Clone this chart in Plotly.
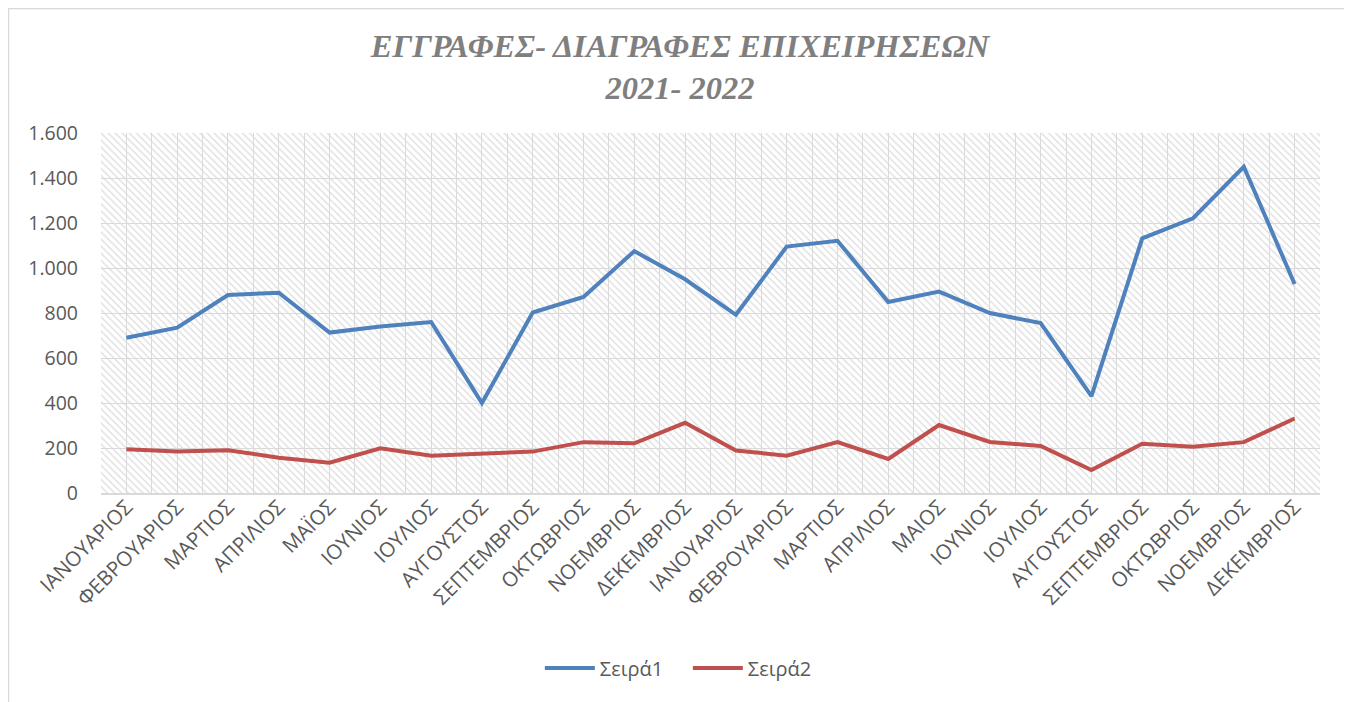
import plotly.graph_objects as go

months = ["ΙΑΝΟΥΑΡΙΟΣ", "ΦΕΒΡΟΥΑΡΙΟΣ", "ΜΑΡΤΙΟΣ", "ΑΠΡΙΛΙΟΣ", "ΜΑΪΟΣ", "ΙΟΥΝΙΟΣ",
          "ΙΟΥΛΙΟΣ", "ΑΥΓΟΥΣΤΟΣ", "ΣΕΠΤΕΜΒΡΙΟΣ", "ΟΚΤΩΒΡΙΟΣ", "ΝΟΕΜΒΡΙΟΣ", "ΔΕΚΕΜΒΡΙΟΣ",
          "ΙΑΝΟΥΑΡΙΟΣ", "ΦΕΒΡΟΥΑΡΙΟΣ", "ΜΑΡΤΙΟΣ", "ΑΠΡΙΛΙΟΣ", "ΜΑΙΟΣ", "ΙΟΥΝΙΟΣ",
          "ΙΟΥΛΙΟΣ", "ΑΥΓΟΥΣΤΟΣ", "ΣΕΠΤΕΜΒΡΙΟΣ", "ΟΚΤΩΒΡΙΟΣ", "ΝΟΕΜΒΡΙΟΣ", "ΔΕΚΕΜΒΡΙΟΣ"]

seira1 = [690, 735, 880, 890, 713, 740, 760, 400, 802, 871, 1075, 950,
          792, 1095, 1121, 849, 895, 800, 755, 431, 1132, 1221, 1450, 929]
seira2 = [195, 185, 190, 157, 135, 199, 166, 176, 184, 226, 221, 312,
          189, 166, 226, 151, 302, 227, 209, 102, 219, 206, 226, 331]

y_ticks = [0, 200, 400, 600, 800, 1000, 1200, 1400, 1600]
y_tick_labels = ["0", "200", "400", "600", "800", "1.000", "1.200", "1.400", "1.600"]
Y_MAX = 1600

idx = list(range(len(months)))
GRID = "#d9d9d9"
TXT = "#595959"
FONT = "Open Sans"

fig = go.Figure()

# hatched plot-area background (pattern fill)
fig.add_trace(go.Bar(
    x=idx, y=[Y_MAX] * len(idx), width=1,
    marker=dict(color="rgba(0,0,0,0)", line=dict(width=0),
                pattern=dict(shape="\\", size=5, solidity=0.25,
                             fgcolor="#dcdcdc", bgcolor="rgba(0,0,0,0)",
                             fillmode="replace")),
    showlegend=False, hoverinfo="skip"))

fig.add_trace(go.Scatter(x=idx, y=seira1, mode="lines", name="Σειρά1",
                         line=dict(color="#4f81bd", width=4)))
fig.add_trace(go.Scatter(x=idx, y=seira2, mode="lines", name="Σειρά2",
                         line=dict(color="#c0504d", width=4)))

fig.update_layout(
    width=1344, height=694,
    margin=dict(l=93, r=32, t=125, b=209),
    paper_bgcolor="white", plot_bgcolor="white",
    bargap=0,
    title=dict(text="ΕΓΓΡΑΦΕΣ- ΔΙΑΓΡΑΦΕΣ ΕΠΙΧΕΙΡΗΣΕΩΝ<br>2021- 2022",
               x=0.5, xanchor="center", y=0.93, yanchor="top",
               font=dict(family="Liberation Serif", size=32.5, color="#7f7f7f",
                         style="italic", weight="bold")),
    legend=dict(orientation="h", x=0.36, xanchor="left", y=-0.486, yanchor="middle",
                font=dict(family=FONT, size=20, color=TXT), itemwidth=50,
                entrywidth=83, entrywidthmode="pixels",
                bgcolor="rgba(0,0,0,0)"),
    xaxis=dict(range=[-0.5, len(idx) - 0.5], tickmode="array", tickvals=idx,
               ticktext=months, tickangle=-45,
               tickfont=dict(family=FONT, size=20.5, color=TXT),
               showgrid=True, gridcolor=GRID, gridwidth=1,
               minor=dict(tickmode="array", tickvals=[i - 0.5 for i in idx] + [len(idx) - 0.5],
                          showgrid=True, gridcolor=GRID, gridwidth=1),
               showline=True, linecolor=GRID, linewidth=2,
               ticks="", zeroline=False, ticklabelstandoff=-8),
    yaxis=dict(range=[0, Y_MAX], tickmode="array", tickvals=y_ticks, ticktext=y_tick_labels,
               tickfont=dict(family=FONT, size=19.5, color=TXT),
               showgrid=True, gridcolor=GRID, gridwidth=1,
               showline=False, zeroline=False, ticks="", ticklabelstandoff=22),
    shapes=[dict(type="rect", xref="paper", yref="paper",
                 x0=-0.0759, x1=1.0222, y0=-0.65, y1=1.3458,
                 line=dict(color=GRID, width=1.5), fillcolor="rgba(0,0,0,0)", layer="below")],
)

fig.write_html("out.html")
